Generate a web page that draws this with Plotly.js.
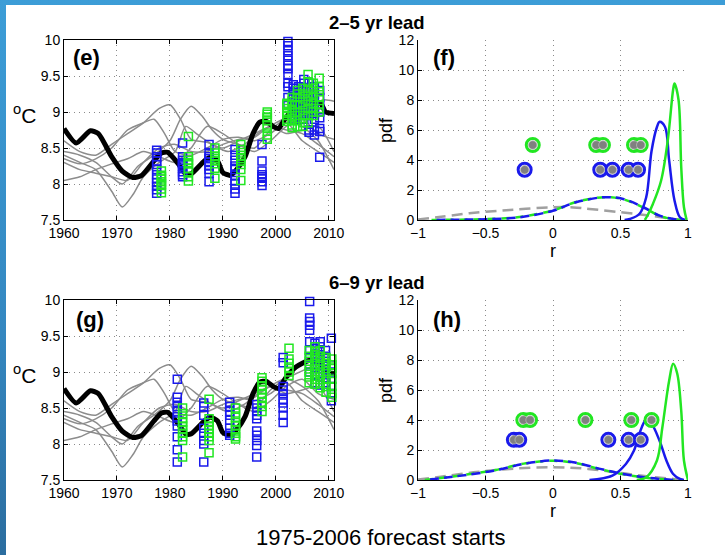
<!DOCTYPE html>
<html>
<head>
<meta charset="utf-8">
<script src="https://cdn.plot.ly/plotly-3.0.1.min.js"></script>
<style>
  html, body { margin: 0; padding: 0; width: 725px; height: 555px; overflow: hidden; }
  body { background: linear-gradient(to bottom, #3c9dd7 0%, #3487c0 60%, #2b6d9f 100%); position: relative; }
  #plot { position: absolute; left: 6px; top: 5px; width: 719px; height: 550px; background: #fff; }
</style>
</head>
<body>
<div id="plot"></div>
<script>
// ---------------- DATA ----------------
// Observed (smoothed) temperature, thick black line
const obsYears = [1960, 1962.3, 1965, 1966.5, 1969, 1971, 1973, 1974.7, 1977, 1978.4, 1979.6, 1981.5, 1983, 1984, 1986.5, 1987.7, 1989, 1990, 1991.4, 1992.6, 1994.2, 1995.7, 1997, 1998.2, 1999.5, 2000.5, 2002, 2003.8, 2006.3, 2008.5, 2009.4, 2011];
const obsTemp  = [8.77, 8.57, 8.74, 8.70, 8.38, 8.18, 8.09, 8.12, 8.32, 8.43, 8.44, 8.29, 8.14, 8.14, 8.32, 8.37, 8.32, 8.16, 8.12, 8.20, 8.38, 8.70, 8.86, 8.87, 8.80, 8.77, 8.93, 9.07, 9.16, 9.12, 9.00, 8.98];

// Uninitialised model runs (thin grey lines)
const g1Years = [1960, 1963, 1966, 1969, 1972, 1975, 1978, 1980, 1982, 1984, 1987, 1990, 1993, 1996, 1999, 2002, 2005, 2008, 2011];
const g1Temp  = [8.60, 8.45, 8.40, 8.55, 8.70, 8.85, 9.05, 9.10, 8.90, 8.62, 8.58, 8.50, 8.60, 8.70, 8.80, 8.75, 8.70, 8.55, 8.38];
const g2Years = [1960, 1963, 1966, 1969, 1971, 1974, 1977, 1980, 1982, 1984, 1986, 1988, 1990, 1993, 1996, 1999, 2002, 2005, 2008, 2011];
const g2Temp  = [8.45, 8.40, 8.30, 8.10, 8.00, 8.25, 8.40, 8.60, 8.90, 9.08, 8.95, 8.75, 8.62, 8.55, 8.50, 8.75, 8.90, 8.80, 8.60, 8.20];
const g3Years = [1960, 1963, 1966, 1969, 1971, 1973, 1975, 1978, 1981, 1983, 1985, 1988, 1991, 1994, 1997, 2000, 2003, 2006, 2009, 2011];
const g3Temp  = [8.40, 8.30, 8.20, 7.90, 7.68, 7.85, 8.10, 8.30, 8.45, 8.80, 8.70, 8.55, 8.45, 8.55, 8.72, 8.85, 8.95, 9.05, 9.17, 9.15];
const g4Years = [1960, 1963, 1966, 1969, 1972, 1975, 1977, 1979, 1981, 1984, 1987, 1990, 1993, 1996, 1999, 2002, 2005, 2008, 2011];
const g4Temp  = [8.35, 8.28, 8.35, 8.50, 8.75, 8.85, 8.90, 8.70, 8.45, 8.40, 8.50, 8.62, 8.65, 8.60, 8.70, 8.85, 8.60, 8.45, 8.30];
const g5Years = [1960, 1963, 1966, 1969, 1972, 1975, 1978, 1981, 1984, 1987, 1990, 1993, 1996, 1999, 2002, 2005, 2008, 2011];
const g5Temp  = [8.05, 8.10, 8.20, 8.28, 8.35, 8.45, 8.38, 8.30, 8.50, 8.80, 8.70, 8.55, 8.45, 8.60, 8.80, 8.90, 8.70, 8.62];
const g6Years = [1960, 1963, 1966, 1969, 1972, 1975, 1978, 1981, 1984, 1987, 1990, 1993, 1996, 1999, 2002, 2005, 2008, 2011];
const g6Temp  = [8.30, 8.20, 8.15, 8.10, 8.05, 8.30, 8.50, 8.55, 8.45, 8.45, 8.55, 8.62, 8.65, 8.80, 8.70, 8.75, 8.80, 8.45];

// (e) 2-5 yr lead hindcasts: column years and member values
const eBlueYears = [1977.5, 1982.4, 1987.4, 1992.3, 1997.4, 2002.3, 2003.3, 2004.3, 2005.3, 2006.3, 2007.3, 2008.3];
const eBlueVals = [
  [8.47, 8.43, 8.38, 8.32, 8.27, 8.20, 8.13, 8.07, 8.02, 7.97, 7.92, 7.87],
  [8.57, 8.38, 8.33, 8.28, 8.22, 8.17, 8.13, 8.10, 8.25, 8.30],
  [8.55, 8.42, 8.38, 8.30, 8.25, 8.20, 8.15, 8.03, 8.35],
  [8.48, 8.40, 8.33, 8.25, 8.20, 8.12, 8.05, 8.00, 7.93, 7.87],
  [8.55, 8.32, 8.18, 8.13, 8.08, 8.03, 7.98, 8.10],
  [9.98, 9.92, 9.85, 9.78, 9.72, 9.65, 9.60, 9.52, 9.40, 9.35, 9.20, 9.10],
  [9.38, 9.33, 9.25, 9.18, 9.10, 9.05, 8.98, 8.90],
  [9.30, 9.22, 9.15, 9.08, 9.00, 8.95, 9.35, 9.12],
  [9.45, 9.40, 9.30, 9.20, 9.12, 9.05, 8.98, 8.90],
  [9.40, 9.30, 9.20, 9.10, 9.02, 8.75, 8.72, 8.95],
  [9.35, 9.25, 9.15, 9.05, 8.98, 8.90, 8.68, 8.75],
  [9.30, 9.20, 9.10, 9.00, 8.92, 8.77, 8.73, 8.37]
];
const eGreenYears = [1978.4, 1983.5, 1988.5, 1993.4, 1998.4, 2002.1, 2003.1, 2004.1, 2005.1, 2006.1, 2007.1, 2008.2];
const eGreenVals = [
  [8.18, 8.12, 8.07, 8.03, 7.98, 7.93, 7.88, 8.00, 8.10],
  [8.66, 8.38, 8.33, 8.28, 8.22, 8.17, 8.10, 8.04, 8.30],
  [8.50, 8.43, 8.38, 8.32, 8.28, 8.22, 8.08, 8.35],
  [8.55, 8.48, 8.40, 8.32, 8.27, 8.20, 8.05, 8.35],
  [9.00, 8.97, 8.93, 8.88, 8.82, 8.77, 8.68, 8.62, 8.92],
  [9.10, 9.05, 9.00, 8.95, 8.90, 8.87, 9.12, 8.98],
  [9.15, 9.10, 9.02, 8.95, 8.88, 8.82, 8.78, 9.20],
  [9.30, 9.20, 9.10, 9.00, 8.95, 8.88, 8.80, 9.25],
  [9.33, 9.25, 9.18, 9.10, 9.02, 8.95, 8.85, 8.80],
  [9.52, 9.42, 9.30, 9.22, 9.15, 9.05, 8.95, 8.85],
  [9.40, 9.33, 9.25, 9.20, 9.12, 9.05, 9.00, 8.95],
  [9.47, 9.35, 9.28, 9.20, 9.10, 9.05, 9.00]
];

// (g) 6-9 yr lead hindcasts
const gBlueYears = [1981.4, 1986.4, 1991.3, 1996.4, 2001.4, 2006.4, 2007.4, 2008.4, 2009.4, 2010.5];
const gBlueVals = [
  [8.90, 8.65, 8.58, 8.52, 8.45, 8.38, 8.32, 8.25, 8.10, 7.92, 7.75],
  [8.57, 8.52, 8.40, 8.22, 8.15, 8.05, 8.00, 7.75],
  [8.58, 8.52, 8.45, 8.40, 8.33, 8.22, 8.15, 8.12],
  [8.55, 8.50, 8.45, 8.40, 8.35, 8.18, 8.12, 8.05, 7.98, 7.82],
  [9.20, 9.13, 8.80, 8.75, 8.70, 8.62, 8.57, 8.50, 8.40, 8.30],
  [9.98, 9.75, 9.70, 9.65, 9.58, 9.42, 9.30, 9.20, 9.10, 9.00],
  [9.40, 9.33, 9.25, 9.18, 9.10, 9.05, 8.95, 8.85],
  [9.42, 9.35, 9.28, 9.20, 9.12, 9.05, 8.98, 8.82],
  [9.30, 9.22, 9.15, 9.08, 9.00, 8.92, 8.85],
  [9.47, 9.10, 9.00, 8.90, 8.80, 8.70, 8.60]
];
const gGreenYears = [1982.4, 1987.4, 1992.4, 1997.4, 2002.5, 2006.3, 2007.4, 2008.4, 2009.5, 2010.6];
const gGreenVals = [
  [8.50, 8.42, 8.35, 8.30, 8.25, 8.20, 8.15, 8.10, 8.05, 7.82],
  [8.62, 8.35, 8.30, 8.25, 8.20, 8.15, 8.10, 8.05, 7.88],
  [8.50, 8.43, 8.37, 8.30, 8.25, 8.20, 8.15, 8.10, 8.07],
  [8.92, 8.87, 8.80, 8.75, 8.70, 8.65, 8.58, 8.52, 8.45],
  [9.33, 9.18, 9.12, 9.05, 9.00, 8.95],
  [9.30, 9.22, 9.15, 9.08, 9.00, 8.93, 8.85],
  [9.35, 9.28, 9.20, 9.12, 9.05, 8.98, 8.90, 8.83],
  [9.30, 9.22, 9.15, 9.08, 9.00, 8.93, 8.85, 8.78],
  [9.20, 9.12, 9.05, 8.98, 8.90, 8.80, 8.72],
  [9.18, 9.10, 9.05, 8.98, 8.90, 8.80, 8.70, 8.65]
];

// (f) pdfs of correlation r, 2-5 yr lead
const fGrayR   = [-1.0, -0.86, -0.62, -0.32, 0.0, 0.15, 0.27, 0.52, 0.72, 0.89, 0.97];
const fGrayPdf = [0.04, 0.18, 0.45, 0.67, 0.85, 0.84, 0.74, 0.50, 0.29, 0.07, 0.0];
const fDashR   = [-0.9, -0.7, -0.5, -0.25, 0.0, 0.17, 0.38, 0.52, 0.67, 0.79, 0.89, 0.95];
const fBlueDashPdf  = [0.0, 0.02, 0.05, 0.18, 0.62, 1.18, 1.52, 1.40, 0.85, 0.29, 0.07, 0.0];
const fGreenDashPdf = [0.0, 0.02, 0.06, 0.20, 0.64, 1.20, 1.52, 1.38, 0.83, 0.28, 0.06, 0.0];
const fBlueR   = [0.53, 0.57, 0.64, 0.69, 0.73, 0.77, 0.79, 0.83, 0.86, 0.90, 0.94, 0.98];
const fBluePdf = [0.0, 0.07, 0.40, 1.50, 4.60, 6.20, 6.55, 6.20, 4.00, 1.30, 0.18, 0.0];
const fGreenR   = [0.68, 0.70, 0.74, 0.80, 0.85, 0.89, 0.90, 0.93, 0.95, 0.97, 0.99];
const fGreenPdf = [0.0, 0.30, 1.07, 2.60, 5.30, 8.70, 9.10, 8.00, 3.50, 0.85, 0.0];
const fGreenDotR = [-0.15, 0.32, 0.37, 0.60, 0.65];
const fGreenDotY = [5, 5, 5, 5, 5];
const fBlueDotR  = [-0.21, 0.35, 0.44, 0.56, 0.63];
const fBlueDotY  = [3.35, 3.35, 3.35, 3.35, 3.35];

// (h) pdfs of correlation r, 6-9 yr lead
const hGrayR   = [-1.0, -0.86, -0.59, -0.32, 0.0, 0.26, 0.50, 0.72, 0.89, 0.97];
const hGrayPdf = [0.04, 0.18, 0.51, 0.74, 0.85, 0.74, 0.47, 0.22, 0.07, 0.0];
const hDashR   = [-0.95, -0.74, -0.44, -0.20, 0.0, 0.15, 0.35, 0.52, 0.67, 0.79, 0.90];
const hBlueDashPdf  = [0.0, 0.22, 0.62, 1.10, 1.30, 1.18, 0.74, 0.40, 0.18, 0.07, 0.0];
const hGreenDashPdf = [0.0, 0.24, 0.64, 1.12, 1.28, 1.16, 0.72, 0.38, 0.17, 0.06, 0.0];
const hBlueR   = [0.27, 0.44, 0.54, 0.60, 0.64, 0.69, 0.73, 0.79, 0.84, 0.89, 0.94, 0.97];
const hBluePdf = [0.0, 0.29, 1.07, 1.96, 3.10, 4.00, 3.75, 2.60, 1.30, 0.40, 0.07, 0.0];
const hGreenR   = [0.62, 0.69, 0.77, 0.81, 0.86, 0.89, 0.92, 0.95, 0.97, 1.0];
const hGreenPdf = [0.0, 0.18, 1.30, 3.50, 6.60, 7.75, 7.10, 4.60, 1.30, 0.0];
const hGreenDotR = [-0.22, -0.17, 0.24, 0.58, 0.73];
const hGreenDotY = [4, 4, 4, 4, 4];
const hBlueDotR  = [-0.29, -0.25, 0.41, 0.56, 0.65];
const hBlueDotY  = [2.68, 2.68, 2.68, 2.68, 2.68];

const tempTicks = [7.5, 8, 8.5, 9, 9.5, 10];
const tempTickText = ['7.5', '8', '8.5', '9', '9.5', '10'];
const yearTicks = [1960, 1970, 1980, 1990, 2000, 2010];
const rTicks = [-1, -0.5, 0, 0.5, 1];
const rTickText = ['\u22121', '\u22120.5', '0', '0.5', '1'];
const pdfTicks = [0, 2, 4, 6, 8, 10, 12];

// ---------------- STYLE / LAYOUT ----------------
const W = 719, H = 550, OX = 6, OY = 5;
const px = x => (x - OX) / W;
const py = y => 1 - (y - OY) / H;

const BLUE = '#1a1aeb';
const GREEN = '#22e622';
const GRAY = '#8c8c8c';
const FONT = 'Liberation Sans, Arial, Helvetica, sans-serif';

function flatten(years, vals) {
  const xs = [], ys = [];
  years.forEach((yr, i) => vals[i].forEach(v => { xs.push(yr); ys.push(v); }));
  return {xs, ys};
}

const traces = [];
function tempPanel(xa, ya, blueYears, blueVals, greenYears, greenVals) {
  const grays = [[g1Years, g1Temp], [g2Years, g2Temp], [g3Years, g3Temp], [g4Years, g4Temp], [g5Years, g5Temp], [g6Years, g6Temp]];
  grays.forEach(g => traces.push({x: g[0], y: g[1], xaxis: xa, yaxis: ya, mode: 'lines', line: {color: GRAY, width: 1.5, shape: 'spline', smoothing: 0.7}, hoverinfo: 'skip'}));
  traces.push({x: obsYears, y: obsTemp, xaxis: xa, yaxis: ya, mode: 'lines', line: {color: '#000', width: 5, shape: 'spline', smoothing: 0.6}});
  const b = flatten(blueYears, blueVals);
  traces.push({x: b.xs, y: b.ys, xaxis: xa, yaxis: ya, mode: 'markers', cliponaxis: false,
    marker: {symbol: 'square-open', size: 8, color: BLUE, line: {color: BLUE, width: 1.5}}});
  const g = flatten(greenYears, greenVals);
  traces.push({x: g.xs, y: g.ys, xaxis: xa, yaxis: ya, mode: 'markers', cliponaxis: false,
    marker: {symbol: 'square-open', size: 8, color: GREEN, line: {color: GREEN, width: 1.5}}});
}
function pdfPanel(xa, ya, grayR, grayPdf, dashR, blueDash, greenDash, blueR, bluePdf, greenR, greenPdf, gdR, gdY, bdR, bdY) {
  traces.push({x: grayR, y: grayPdf, xaxis: xa, yaxis: ya, mode: 'lines', line: {color: '#a0a0a0', width: 2.5, dash: '11px,6px', shape: 'spline'}});
  traces.push({x: dashR, y: greenDash, xaxis: xa, yaxis: ya, mode: 'lines', line: {color: GREEN, width: 2.5, dash: '8px,6px', shape: 'spline'}});
  traces.push({x: dashR, y: blueDash, xaxis: xa, yaxis: ya, mode: 'lines', line: {color: BLUE, width: 2.5, dash: '0px,5px,9px,0px', shape: 'spline'}});
  traces.push({x: blueR, y: bluePdf, xaxis: xa, yaxis: ya, mode: 'lines', line: {color: BLUE, width: 2.5, shape: 'spline'}});
  traces.push({x: greenR, y: greenPdf, xaxis: xa, yaxis: ya, mode: 'lines', line: {color: GREEN, width: 2.5, shape: 'spline'}});
  [[gdR, gdY, GREEN], [bdR, bdY, BLUE]].forEach(d => {
    traces.push({x: d[0], y: d[1], xaxis: xa, yaxis: ya, mode: 'markers', cliponaxis: false,
      marker: {symbol: 'circle', size: 13, color: '#ffffff', line: {color: d[2], width: 3}}});
    traces.push({x: d[0], y: d[1], xaxis: xa, yaxis: ya, mode: 'markers', cliponaxis: false,
      marker: {symbol: 'circle', size: 8.5, color: '#808080', line: {color: '#b8b8b8', width: 0.8}}});
  });
}

tempPanel('x', 'y', eBlueYears, eBlueVals, eGreenYears, eGreenVals);
pdfPanel('x2', 'y2', fGrayR, fGrayPdf, fDashR, fBlueDashPdf, fGreenDashPdf, fBlueR, fBluePdf, fGreenR, fGreenPdf, fGreenDotR, fGreenDotY, fBlueDotR, fBlueDotY);
tempPanel('x3', 'y3', gBlueYears, gBlueVals, gGreenYears, gGreenVals);
pdfPanel('x4', 'y4', hGrayR, hGrayPdf, hDashR, hBlueDashPdf, hGreenDashPdf, hBlueR, hBluePdf, hGreenR, hGreenPdf, hGreenDotR, hGreenDotY, hBlueDotR, hBlueDotY);

const axBase = {
  showline: true, linecolor: '#000', linewidth: 1,
  ticks: 'inside', ticklen: 4, tickcolor: '#000', tickwidth: 1,
  showgrid: true, gridcolor: '#8a8a8a', griddash: '1px,4px', gridwidth: 1,
  zeroline: false, tickfont: {family: FONT, size: 14, color: '#000'}, fixedrange: true
};
const tDomX = [px(64), px(334)], rDomX = [px(418), px(688)];
const topDomY = [py(220), py(40)], botDomY = [py(480), py(300)];

function yearAx(dom, anchor) { return Object.assign({}, axBase, {domain: dom, anchor: anchor, range: [1960, 2011], tickmode: 'array', tickvals: yearTicks, mirror: 'ticks'}); }
function tempAx(dom, anchor) { return Object.assign({}, axBase, {domain: dom, anchor: anchor, range: [7.5, 10], tickmode: 'array', tickvals: tempTicks, ticktext: tempTickText, mirror: 'ticks'}); }
function rAx(dom, anchor) { return Object.assign({}, axBase, {domain: dom, anchor: anchor, range: [-1, 1], tickmode: 'array', tickvals: rTicks, ticktext: rTickText}); }
function pdfAx(dom, anchor) { return Object.assign({}, axBase, {domain: dom, anchor: anchor, range: [0, 12], tickmode: 'array', tickvals: pdfTicks}); }

function ann(text, x, y, size, bold, extra) {
  return Object.assign({text: bold ? '<b>' + text + '</b>' : text, x: px(x), y: py(y), xref: 'paper', yref: 'paper',
    showarrow: false, xanchor: 'center', yanchor: 'middle', font: {family: FONT, size: size, color: '#000'}}, extra || {});
}

const layout = {
  width: W, height: H, margin: {l: 0, r: 0, t: 0, b: 0},
  paper_bgcolor: '#ffffff', plot_bgcolor: '#ffffff', showlegend: false,
  xaxis: yearAx(tDomX, 'y'), yaxis: tempAx(topDomY, 'x'),
  xaxis2: rAx(rDomX, 'y2'), yaxis2: pdfAx(topDomY, 'x2'),
  xaxis3: yearAx(tDomX, 'y3'), yaxis3: tempAx(botDomY, 'x3'),
  xaxis4: rAx(rDomX, 'y4'), yaxis4: pdfAx(botDomY, 'x4'),
  annotations: [
    ann('2\u20135 yr lead', 377, 23, 18.5, true),
    ann('6\u20139 yr lead', 377, 282, 18.5, true),
    ann('(e)', 86, 58, 22, true),
    ann('(f)', 444, 58, 22, true),
    ann('(g)', 90, 319, 22, true),
    ann('(h)', 447, 319, 22, true),
    ann('<sup>o</sup>C', 24, 114, 21, false),
    ann('<sup>o</sup>C', 24, 374, 21, false),
    ann('pdf', 386, 130, 18, false, {textangle: -90}),
    ann('pdf', 386, 390, 18, false, {textangle: -90}),
    ann('r', 553, 251, 18, false),
    ann('r', 553, 511, 18, false),
    ann('1975-2006 forecast starts', 380, 537, 22, false)
  ]
};

Plotly.newPlot('plot', traces, layout, {displayModeBar: false, staticPlot: true});
</script>
</body>
</html>
